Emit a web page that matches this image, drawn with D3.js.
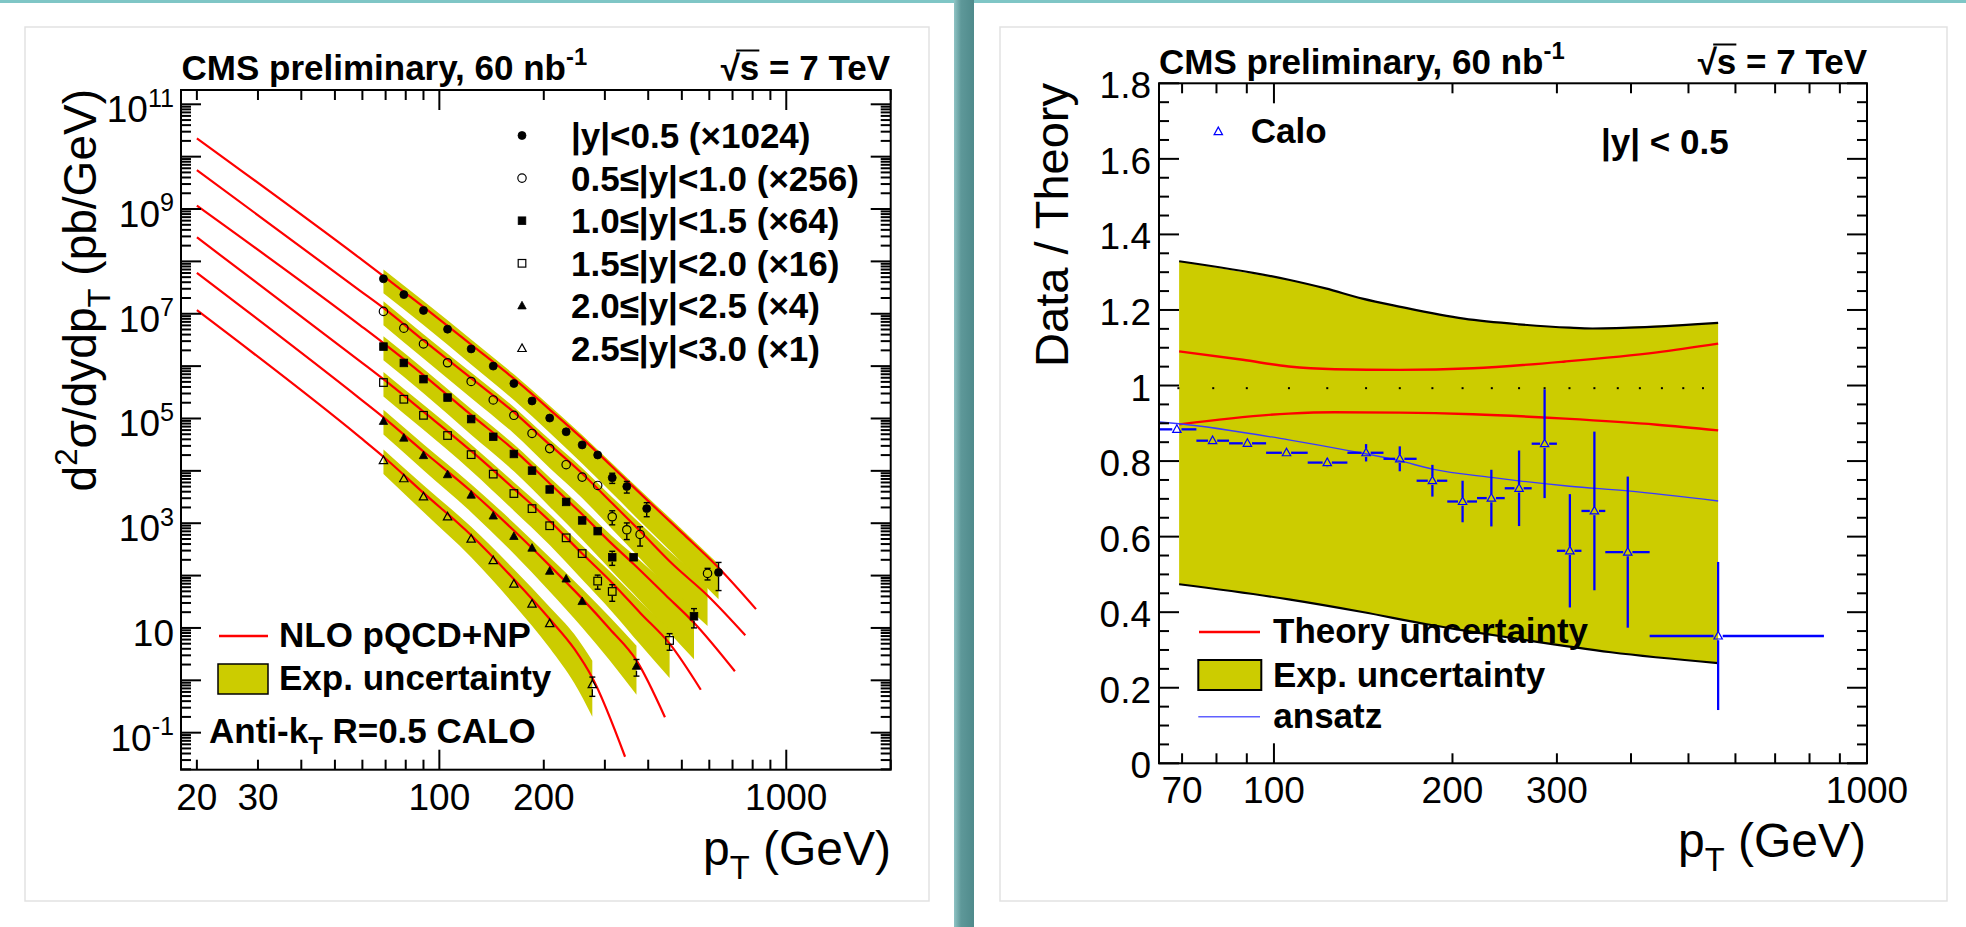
<!DOCTYPE html>
<html lang="en">
<head>
<meta charset="UTF-8">
<script src="https://cdn.jsdelivr.net/npm/d3@7"></script>
<title>CMS inclusive jets - cross section and data/theory</title>
<style>
  body { margin: 0; background: #fff; }
  svg text { font-family: "Liberation Sans", Arial, Helvetica, sans-serif; fill: #000; }
</style>
</head>
<body>
<svg id="fig" width="1966" height="927"></svg>
<script>
// ---------- left panel: measured points (pT in GeV, cross section in pb/GeV, relative error)
const ptS1 = [69, 79, 90, 105.6, 123.5, 143, 164, 185, 208, 232, 258, 286, 315, 347, 396, 638];
const yS1  = [4.65e7, 2.32e7, 1.16e7, 5.08e6, 2.13e6, 1.00e6, 4.66e5, 2.16e5, 1.02e5, 5.57e4, 3.13e4, 2.01e4, 7.38e3, 5.02e3, 1.90e3, 115];
const eS1  = [0.03, 0.03, 0.03, 0.03, 0.03, 0.04, 0.05, 0.06, 0.08, 0.1, 0.12, 0.15, 0.22, 0.25, 0.3, 0.55];

const ptS2 = [69, 79, 90, 105.6, 123.5, 143, 164, 185, 208, 232, 258, 286, 315, 347, 379, 593];
const yS2  = [1.11e7, 5.31e6, 2.65e6, 1.16e6, 5.09e5, 2.26e5, 1.15e5, 5.18e4, 2.66e4, 1.31e4, 7.60e3, 5.26e3, 1.33e3, 750, 610, 110];
const eS2  = [0.03, 0.03, 0.03, 0.03, 0.03, 0.04, 0.05, 0.06, 0.08, 0.1, 0.12, 0.15, 0.3, 0.35, 0.4, 0.25];

const ptS3 = [69, 79, 90, 105.6, 123.5, 143, 164, 185, 208, 232, 258, 286, 315, 363, 542];
const yS3  = [2.36e6, 1.15e6, 5.64e5, 2.51e5, 9.75e4, 4.47e4, 2.10e4, 1.01e4, 4.41e3, 2.55e3, 1.13e3, 706, 224, 224, 16.7];
const eS3  = [0.03, 0.03, 0.03, 0.03, 0.03, 0.04, 0.05, 0.06, 0.08, 0.1, 0.12, 0.15, 0.3, 0.15, 0.4];

const ptS4 = [69, 79, 90, 105.6, 123.5, 143, 164, 185, 208, 232, 258, 286, 315, 461];
const yS4  = [4.86e5, 2.33e5, 1.15e5, 4.73e4, 2.04e4, 8.67e3, 3.69e3, 1.90e3, 895, 526, 263, 78.5, 49.7, 5.77];
const eS4  = [0.03, 0.03, 0.03, 0.03, 0.03, 0.04, 0.05, 0.06, 0.08, 0.1, 0.12, 0.3, 0.35, 0.35];

const ptS5 = [69, 79, 90, 105.6, 123.5, 143, 164, 185, 208, 232, 258, 370];
const yS5  = [8.79e4, 4.21e4, 1.95e4, 8.43e3, 3.43e3, 1.37e3, 558, 333, 120.5, 85.9, 31.9, 1.85];
const eS5  = [0.03, 0.03, 0.03, 0.03, 0.04, 0.05, 0.06, 0.07, 0.09, 0.12, 0.15, 0.35];

const ptS6 = [69, 79, 90, 105.6, 123.5, 143, 164, 185, 208, 276];
const yS6  = [1.57e4, 7.06e3, 3.18e3, 1.32e3, 497, 193, 68.7, 28.4, 12.05, 0.824];
const eS6  = [0.03, 0.03, 0.03, 0.04, 0.05, 0.06, 0.07, 0.08, 0.1, 0.4];

// NLO pQCD+NP curves (nodes)
const thPtS1 = [20, 59, 69, 90, 123.5, 164, 208, 258, 315, 396, 500, 638, 818];
const thS1   = [2.24e10, 1.15e8, 5.25e7, 1.35e7, 2.57e6, 5.75e5, 1.48e5, 4.17e4, 1.20e4, 2.82e3, 661, 141, 22.9];
const thPtS2 = [20, 59, 69, 90, 123.5, 164, 208, 258, 315, 379, 470, 593, 762];
const thS2   = [5.56e9, 2.77e7, 1.29e7, 3.09e6, 5.89e5, 1.32e5, 3.16e4, 8.91e3, 2.40e3, 708, 166, 41.7, 7.24];
const thPtS3 = [20, 59, 69, 90, 123.5, 164, 208, 258, 315, 363, 450, 542, 711];
const thS3   = [1.16e9, 6.07e6, 2.75e6, 6.76e5, 1.17e5, 2.51e4, 5.75e3, 1.48e3, 398, 166, 41.7, 12.6, 1.49];
const thPtS4 = [20, 59, 69, 90, 123.5, 164, 208, 258, 315, 380, 461, 567];
const thS4   = [2.88e8, 1.25e6, 5.62e5, 1.35e5, 2.40e4, 4.57e3, 1.10e3, 263, 72.4, 19.1, 5.01, 0.661];
const thPtS5 = [20, 59, 69, 90, 123.5, 164, 208, 258, 310, 370, 447];
const thS5   = [6.03e7, 2.40e5, 1.05e5, 2.34e4, 4.07e3, 724, 155, 36.3, 9.55, 2.40, 0.197];
const thPtS6 = [20, 59, 69, 90, 123.5, 164, 208, 245, 276, 343];
const thS6   = [1.17e7, 4.40e4, 1.86e4, 3.80e3, 589, 85.1, 14.8, 3.98, 1.12, 0.0347];

// experimental uncertainty band, as fractions of the curve at the curve nodes inside the data range
const bandLoS1 = [0.47, 0.45, 0.42, 0.39, 0.36, 0.33, 0.31, 0.29, 0.27, 0.25];
const bandHiS1 = [1.33, 1.30, 1.26, 1.21, 1.18, 1.16, 1.15, 1.16, 1.16, 1.17];
const bandLoS2 = [0.47, 0.45, 0.42, 0.39, 0.36, 0.34, 0.32, 0.30, 0.28, 0.26];
const bandHiS2 = [1.35, 1.32, 1.28, 1.25, 1.25, 1.27, 1.30, 1.40, 1.55, 1.80];
const bandLoS3 = [0.47, 0.45, 0.42, 0.39, 0.36, 0.33, 0.30, 0.27, 0.23, 0.20];
const bandHiS3 = [1.35, 1.32, 1.30, 1.28, 1.30, 1.35, 1.42, 1.50, 1.65, 1.80];
const bandLoS4 = [0.47, 0.45, 0.42, 0.38, 0.35, 0.32, 0.28, 0.25, 0.22];
const bandHiS4 = [1.38, 1.35, 1.33, 1.33, 1.36, 1.42, 1.50, 1.65, 1.80];
const bandLoS5 = [0.47, 0.44, 0.40, 0.36, 0.32, 0.28, 0.25, 0.22];
const bandHiS5 = [1.40, 1.38, 1.37, 1.40, 1.45, 1.55, 1.70, 1.90];
const bandLoS6 = [0.47, 0.43, 0.38, 0.33, 0.28, 0.22, 0.18];
const bandHiS6 = [1.38, 1.40, 1.45, 1.55, 1.70, 1.90, 2.10];

const legendLabels = ['|y|<0.5 (×1024)', '0.5≤|y|<1.0 (×256)', '1.0≤|y|<1.5 (×64)',
                      '1.5≤|y|<2.0 (×16)', '2.0≤|y|<2.5 (×4)', '2.5≤|y|<3.0 (×1)'];
const markerTypes = ['circleF', 'circleO', 'squareF', 'squareO', 'triF', 'triO'];

const xLabelsLeft = [20, 30, 100, 200, 1000];
const yLabelExpLeft = [11, 9, 7, 5, 3, 1, -1];

// ---------- right panel: data / theory for |y|<0.5
const ptR    = [68.6, 78.8, 90.2, 105, 123, 143, 163, 185, 208, 232.6, 259, 286, 315.5, 347, 395, 561];
const ptRLo  = [64, 74, 84, 97, 114, 133, 153, 174, 196, 220, 245, 272, 300, 330, 362, 430];
const ptRHi  = [74, 84, 97, 114, 133, 153, 174, 196, 220, 245, 272, 300, 330, 362, 430, 846];
const ratioR = [0.884, 0.854, 0.847, 0.822, 0.796, 0.822, 0.806, 0.748, 0.693, 0.702, 0.728, 0.846, 0.5625, 0.668, 0.559, 0.337];
const errR   = [0.008, 0.008, 0.008, 0.01, 0.012, 0.023, 0.033, 0.042, 0.055, 0.075, 0.1, 0.144, 0.15, 0.21, 0.2, 0.196];

const expUpPt = [69.2, 105.9, 122.2, 141, 162.6, 209, 258.7, 315.2, 344.5, 561];
const expUp   = [1.329, 1.280, 1.257, 1.230, 1.209, 1.177, 1.162, 1.153, 1.151, 1.166];
const expDnPt = [69.2, 105.9, 141, 181, 258.7, 370, 561];
const expDn   = [0.474, 0.434, 0.4005, 0.368, 0.329, 0.294, 0.265];

const thUpPt = [69.2, 88.6, 105.9, 126.6, 162.6, 216.5, 309.7, 442.6, 561];
const thUp   = [1.0903, 1.0681, 1.0503, 1.0432, 1.0414, 1.0458, 1.0636, 1.0877, 1.1108];
const thDnPt = [69.2, 105.9, 126.6, 162.6, 216.5, 309.7, 442.6, 561];
const thDn   = [0.8972, 0.9257, 0.9292, 0.9283, 0.9239, 0.9123, 0.8963, 0.8812];

const ansatzPt = [64.2, 69.2, 105.9, 133.6, 162.6, 185, 232.6, 258.7, 315.2, 395, 561];
const ansatz   = [0.9034, 0.8988, 0.8562, 0.8278, 0.8011, 0.7788, 0.7566, 0.7477, 0.7334, 0.7210, 0.6943];

const unityDotPt = [69, 79, 90, 106, 123, 143, 163, 185, 208, 233, 259, 286, 315, 347, 380, 414, 451, 490, 529];
const unityLevel = 0.993;

const xLabelsRight = [70, 100, 200, 300, 1000];
const yLabelsRight = [0, 0.2, 0.4, 0.6, 0.8, 1, 1.2, 1.4, 1.6, 1.8];

// ---------- drawing
const svg = d3.select('#fig');
const BAND = '#cccc00';

// page decoration
const defs = svg.append('defs');
const grad = defs.append('linearGradient').attr('id', 'teal').attr('x1', 0).attr('x2', 1);
grad.append('stop').attr('offset', '0%').attr('stop-color', '#8fc3c4');
grad.append('stop').attr('offset', '35%').attr('stop-color', '#5e9899');
grad.append('stop').attr('offset', '100%').attr('stop-color', '#4f8a8b');
svg.append('rect').attr('x', 0).attr('y', 0).attr('width', 1966).attr('height', 3).attr('fill', '#7fc6c6');
svg.append('rect').attr('x', 954).attr('y', 0).attr('width', 20).attr('height', 927).attr('fill', 'url(#teal)');
[[25, 27, 904, 874], [1000, 27, 947, 874]].forEach(([x, y, w, h]) => {
  svg.append('rect').attr('x', x).attr('y', y).attr('width', w).attr('height', h)
    .attr('fill', '#fff').attr('stroke', '#e2e2e2').attr('stroke-width', 1.5);
});

// text helper with super/subscripts
function rich(g, x, y, parts, size, opts = {}) {
  const t = g.append('text').attr('x', x).attr('y', y).attr('font-size', size)
    .attr('text-anchor', opts.anchor || 'start');
  if (opts.bold) t.attr('font-weight', 'bold');
  let shift = 0;
  parts.forEach(([s, kind]) => {
    const target = kind === 'sup' ? -0.42 * size : kind === 'sub' ? 0.3 * size : 0;
    const sp = t.append('tspan').text(s).attr('dy', target - shift);
    shift = target;
    if (kind !== 'n') sp.attr('font-size', size * 0.68);
  });
  return t;
}

function marker(g, type, x, y, color = '#000') {
  const filled = type.endsWith('F');
  const fill = filled ? color : 'none';
  let m;
  if (type.startsWith('circle')) {
    m = g.append('circle').attr('cx', x).attr('cy', y).attr('r', filled ? 4 : 4.2);
  } else if (type.startsWith('square')) {
    m = g.append('rect').attr('x', x - 3.8).attr('y', y - 3.8).attr('width', 7.6).attr('height', 7.6);
  } else {
    m = g.append('path').attr('d', `M${x},${y - 4.6}L${x + 4.2},${y + 3}L${x - 4.2},${y + 3}Z`);
  }
  m.attr('fill', fill).attr('stroke', color).attr('stroke-width', filled ? 0.8 : 1.2);
}

function logTicks(lo, hi) {
  const out = [];
  for (let d = Math.floor(Math.log10(lo)); d <= Math.ceil(Math.log10(hi)); d++) {
    for (let m = 1; m <= 9; m++) {
      const v = m * Math.pow(10, d);
      if (v >= lo && v <= hi) out.push({ v, major: m === 1 });
    }
  }
  return out;
}

// ================= LEFT PANEL =================
const xL = d3.scaleLog().domain([18, 2000]).range([181, 890.7]);
const yL = d3.scaleLog().domain([Math.pow(10, -1.707), Math.pow(10, 11.273)]).range([769.7, 90]);
const gL = svg.append('g');

const series = [
  { pt: ptS1, y: yS1, e: eS1, thPt: thPtS1, th: thS1, lo: bandLoS1, hi: bandHiS1 },
  { pt: ptS2, y: yS2, e: eS2, thPt: thPtS2, th: thS2, lo: bandLoS2, hi: bandHiS2 },
  { pt: ptS3, y: yS3, e: eS3, thPt: thPtS3, th: thS3, lo: bandLoS3, hi: bandHiS3 },
  { pt: ptS4, y: yS4, e: eS4, thPt: thPtS4, th: thS4, lo: bandLoS4, hi: bandHiS4 },
  { pt: ptS5, y: yS5, e: eS5, thPt: thPtS5, th: thS5, lo: bandLoS5, hi: bandHiS5 },
  { pt: ptS6, y: yS6, e: eS6, thPt: thPtS6, th: thS6, lo: bandLoS6, hi: bandHiS6 }
];

const bandArea = d3.area().x(d => xL(d.p)).y0(d => yL(d.v * d.lo)).y1(d => yL(d.v * d.hi))
  .curve(d3.curveMonotoneX);
const thLine = d3.line().x(d => xL(d.p)).y(d => yL(d.v)).curve(d3.curveMonotoneX);

series.forEach(s => {
  const first = s.pt[0], last = s.pt[s.pt.length - 1];
  const nodes = s.thPt.map((p, k) => ({ p, v: s.th[k] })).filter(n => n.p >= first && n.p <= last);
  nodes.forEach((n, k) => { n.lo = s.lo[k]; n.hi = s.hi[k]; });
  gL.append('path').attr('d', bandArea(nodes)).attr('fill', BAND);
});
series.forEach(s => {
  gL.append('path').attr('d', thLine(s.thPt.map((p, k) => ({ p, v: s.th[k] }))))
    .attr('fill', 'none').attr('stroke', '#ff0000').attr('stroke-width', 2.2);
});
series.forEach((s, i) => {
  s.pt.forEach((p, k) => {
    const x = xL(p), y = yL(s.y[k]);
    const yTop = yL(s.y[k] * (1 + s.e[k])), yBot = yL(s.y[k] * (1 - s.e[k]));
    const half = 4.5;
    if (y - yTop > half) {
      gL.append('line').attr('x1', x).attr('x2', x).attr('y1', yTop).attr('y2', y - half);
      gL.append('line').attr('x1', x - 3).attr('x2', x + 3).attr('y1', yTop).attr('y2', yTop);
    }
    if (yBot - y > half) {
      gL.append('line').attr('x1', x).attr('x2', x).attr('y1', y + half).attr('y2', yBot);
      gL.append('line').attr('x1', x - 3).attr('x2', x + 3).attr('y1', yBot).attr('y2', yBot);
    }
    marker(gL, markerTypes[i], x, y);
  });
});
gL.selectAll('line').attr('stroke', '#000').attr('stroke-width', 1.4);

// frame and ticks
const axL = svg.append('g').attr('stroke', '#000').attr('stroke-width', 2);
axL.append('rect').attr('x', 181).attr('y', 90).attr('width', 709.7).attr('height', 679.7).attr('fill', 'none');
logTicks(18, 2000).forEach(t => {
  const x = xL(t.v), len = t.major ? 20 : 10;
  axL.append('line').attr('x1', x).attr('x2', x).attr('y1', 769.7).attr('y2', 769.7 - len);
  axL.append('line').attr('x1', x).attr('x2', x).attr('y1', 90).attr('y2', 90 + len);
});
logTicks(Math.pow(10, -1.707), Math.pow(10, 11.273)).forEach(t => {
  const y = yL(t.v), len = t.major ? 20 : 10;
  axL.append('line').attr('x1', 181).attr('x2', 181 + len).attr('y1', y).attr('y2', y);
  axL.append('line').attr('x1', 890.7).attr('x2', 890.7 - len).attr('y1', y).attr('y2', y);
});
xLabelsLeft.forEach(v => {
  svg.append('text').attr('x', xL(v)).attr('y', 810).attr('font-size', 37)
    .attr('text-anchor', 'middle').text(v);
});
yLabelExpLeft.forEach(e => {
  const parts = e === 1 ? [['10', 'n']] : [['10', 'n'], [String(e), 'sup']];
  rich(svg, 174, yL(Math.pow(10, e)) + 18, parts, 37, { anchor: 'end' });
});

// titles
rich(svg, 181.5, 79.5, [['CMS preliminary, 60 nb', 'n'], ['-1', 'sup']], 35, { bold: true });
function sqrtS(x, y) {
  const t = svg.append('text').attr('x', x).attr('y', y).attr('font-size', 35)
    .attr('font-weight', 'bold').attr('text-anchor', 'end').text('\u221As = 7 TeV');
  const node = t.node();
  const x0 = node.getStartPositionOfChar(0).x + 0.6 * (node.getEndPositionOfChar(0).x - node.getStartPositionOfChar(0).x);
  const x1 = node.getEndPositionOfChar(1).x;
  svg.append('line').attr('x1', x0 + 4).attr('x2', x1).attr('y1', y - 29).attr('y2', y - 29)
    .attr('stroke', '#000').attr('stroke-width', 2);
}
sqrtS(890, 79.5);

// axis titles
const ytL = svg.append('g').attr('transform', 'translate(96,89) rotate(-90)');
rich(ytL, 0, 0, [['d', 'n'], ['2', 'sup'], ['σ/dydp', 'n'], ['T', 'sub'], [' (pb/GeV)', 'n']], 46, { anchor: 'end' });
rich(svg, 891, 865, [['p', 'n'], ['T', 'sub'], [' (GeV)', 'n']], 48, { anchor: 'end' });

// legend (top right)
legendLabels.forEach((lab, i) => {
  const yy = 135.5 + 42.6 * i;
  marker(svg, markerTypes[i], 522, yy);
  svg.append('text').attr('x', 571).attr('y', yy + 12.5).attr('font-size', 35)
    .attr('font-weight', 'bold').text(lab);
});
// legend (bottom left)
svg.append('line').attr('x1', 219).attr('x2', 268).attr('y1', 636).attr('y2', 636)
  .attr('stroke', '#ff0000').attr('stroke-width', 2.5);
svg.append('text').attr('x', 279).attr('y', 646.5).attr('font-size', 35).attr('font-weight', 'bold').text('NLO pQCD+NP');
svg.append('rect').attr('x', 218).attr('y', 664).attr('width', 50).attr('height', 30)
  .attr('fill', BAND).attr('stroke', '#000').attr('stroke-width', 1.5);
svg.append('text').attr('x', 279).attr('y', 689.5).attr('font-size', 35).attr('font-weight', 'bold').text('Exp. uncertainty');
rich(svg, 209, 743, [['Anti-k', 'n'], ['T', 'sub'], [' R=0.5 CALO', 'n']], 35, { bold: true });

// ================= RIGHT PANEL =================
const xR = d3.scaleLog().domain([64, 1000]).range([1159, 1867]);
const yR = d3.scaleLinear().domain([0, 1.8]).range([763.3, 83.3]);
const gR = svg.append('g');

const up = expUpPt.map((p, k) => [xR(p), yR(expUp[k])]);
const dn = expDnPt.map((p, k) => [xR(p), yR(expDn[k])]);
gR.append('path').attr('d', d3.line()(up.concat(dn.slice().reverse())) + 'Z').attr('fill', BAND);
[up, dn].forEach(pts => gR.append('path').attr('d', d3.line().curve(d3.curveMonotoneX)(pts))
  .attr('fill', 'none').attr('stroke', '#000').attr('stroke-width', 2.2));

[[thUpPt, thUp], [thDnPt, thDn]].forEach(([ps, vs]) => {
  gR.append('path').attr('d', d3.line().curve(d3.curveMonotoneX)(ps.map((p, k) => [xR(p), yR(vs[k])])))
    .attr('fill', 'none').attr('stroke', '#ff0000').attr('stroke-width', 2.4);
});
unityDotPt.forEach(p => {
  gR.append('rect').attr('x', xR(p) - 1).attr('y', yR(unityLevel) - 1).attr('width', 2).attr('height', 2).attr('fill', '#000');
});
gR.append('path').attr('d', d3.line().curve(d3.curveMonotoneX)(ansatzPt.map((p, k) => [xR(p), yR(ansatz[k])])))
  .attr('fill', 'none').attr('stroke', '#3a3aff').attr('stroke-width', 1.3);

ptR.forEach((p, k) => {
  const x = xR(p), y = yR(ratioR[k]);
  const xl = xR(ptRLo[k]), xh = xR(ptRHi[k]);
  const yt = yR(ratioR[k] + errR[k]), yb = yR(ratioR[k] - errR[k]);
  const hw = 4.6, hh = 4.2;
  const seg = (x1, y1, x2, y2) => gR.append('line').attr('x1', x1).attr('y1', y1).attr('x2', x2).attr('y2', y2)
    .attr('stroke', '#0000ff').attr('stroke-width', 2.3);
  if (x - xl > hw) seg(xl, y, x - hw, y);
  if (xh - x > hw) seg(x + hw, y, xh, y);
  if (y - yt > hh) seg(x, yt, x, y - hh);
  if (yb - y > hh) seg(x, y + hh, x, yb);
  marker(gR, 'triO', x, y, '#0000ff');
});

const axR = svg.append('g').attr('stroke', '#000').attr('stroke-width', 2);
axR.append('rect').attr('x', 1159).attr('y', 83.3).attr('width', 708).attr('height', 680).attr('fill', 'none');
logTicks(64, 1000).forEach(t => {
  const x = xR(t.v), len = t.major ? 20 : 10;
  axR.append('line').attr('x1', x).attr('x2', x).attr('y1', 763.3).attr('y2', 763.3 - len);
  axR.append('line').attr('x1', x).attr('x2', x).attr('y1', 83.3).attr('y2', 83.3 + len);
});
d3.range(0, 37).forEach(i => {
  const y = yR(i * 0.05), len = i % 4 === 0 ? 20 : 10;
  axR.append('line').attr('x1', 1159).attr('x2', 1159 + len).attr('y1', y).attr('y2', y);
  axR.append('line').attr('x1', 1867).attr('x2', 1867 - len).attr('y1', y).attr('y2', y);
});
xLabelsRight.forEach(v => {
  svg.append('text').attr('x', xR(v)).attr('y', 803).attr('font-size', 37).attr('text-anchor', 'middle').text(v);
});
yLabelsRight.forEach(v => {
  svg.append('text').attr('x', 1151).attr('y', yR(v) + 15).attr('font-size', 37).attr('text-anchor', 'end').text(v);
});

rich(svg, 1159, 73.5, [['CMS preliminary, 60 nb', 'n'], ['-1', 'sup']], 35, { bold: true });
sqrtS(1867, 73.5);

const ytR = svg.append('g').attr('transform', 'translate(1068,83) rotate(-90)');
ytR.append('text').attr('x', 0).attr('y', 0).attr('font-size', 47).attr('text-anchor', 'end').text('Data / Theory');
rich(svg, 1866, 857, [['p', 'n'], ['T', 'sub'], [' (GeV)', 'n']], 48, { anchor: 'end' });

// legends
marker(svg, 'triO', 1218.3, 131.7, '#0000ff');
svg.append('text').attr('x', 1250.7).attr('y', 143.3).attr('font-size', 35).attr('font-weight', 'bold').text('Calo');
svg.append('text').attr('x', 1601).attr('y', 154).attr('font-size', 35).attr('font-weight', 'bold').text('|y| < 0.5');

svg.append('line').attr('x1', 1199).attr('x2', 1260).attr('y1', 632).attr('y2', 632)
  .attr('stroke', '#ff0000').attr('stroke-width', 2.5);
svg.append('text').attr('x', 1273).attr('y', 643).attr('font-size', 35).attr('font-weight', 'bold').text('Theory uncertainty');
svg.append('rect').attr('x', 1198.3).attr('y', 660).attr('width', 63).attr('height', 30)
  .attr('fill', BAND).attr('stroke', '#000').attr('stroke-width', 2);
svg.append('text').attr('x', 1273).attr('y', 686.7).attr('font-size', 35).attr('font-weight', 'bold').text('Exp. uncertainty');
svg.append('line').attr('x1', 1198.3).attr('x2', 1260).attr('y1', 716.7).attr('y2', 716.7)
  .attr('stroke', '#6060ff').attr('stroke-width', 1.5);
svg.append('text').attr('x', 1273.3).attr('y', 728.3).attr('font-size', 35).attr('font-weight', 'bold').text('ansatz');
</script>
</body>
</html>
